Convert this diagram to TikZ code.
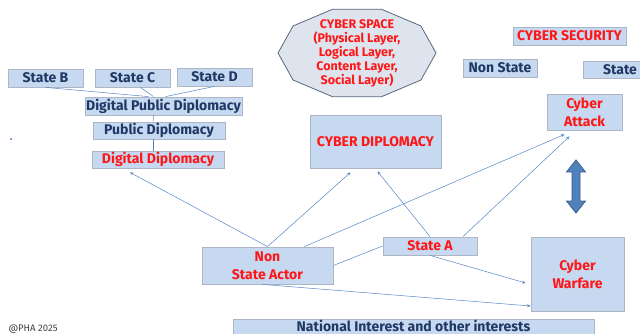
\documentclass[tikz,border=0pt]{standalone}
\usepackage{fontspec}
\setmainfont{Fira Sans}
\usetikzlibrary{arrows.meta,calc}

\definecolor{boxfill}{RGB}{198,217,241}
\definecolor{boxline}{RGB}{172,182,196}
\definecolor{navytext}{RGB}{31,56,100}
\definecolor{redtext}{RGB}{255,22,22}
\definecolor{linkline}{RGB}{84,134,196}
\definecolor{spacefill}{RGB}{222,228,238}
\definecolor{spaceline}{RGB}{88,104,124}
\definecolor{arrowfill}{RGB}{79,129,189}
\definecolor{arrowline}{RGB}{56,93,138}

\newlength{\du}
\setlength{\du}{1pt}

\begin{document}
\begin{tikzpicture}[
  box/.style={draw=boxline, fill=boxfill, line width=0.8pt, inner sep=0pt,
    font=\bfseries\fontsize{14}{18}\selectfont, align=center},
  navy/.style={box, text=navytext},
  redbox/.style={box, text=redtext},
  link/.style={draw=linkline, line width=0.5pt},
  linkarrow/.style={link, -{Stealth[length=3.5pt,width=3pt]}}
]
\pgftransformxscale{1.000000}
\pgftransformyscale{-1.000000}
\clip (0\du,0\du) rectangle (640\du,334\du);
% states on the left
\node[navy, minimum width=75\du, minimum height=18\du] (stateB) at (45.5\du,78\du) {State B};
\node[navy, minimum width=75\du, minimum height=18\du] (stateC) at (132.5\du,78\du) {State C};
\node[navy, minimum width=75\du, minimum height=18\du] (stateD) at (214.5\du,77\du) {State D};
\node[navy, minimum width=157\du, minimum height=18\du] (dpd) at (163.5\du,106\du) {Digital Public Diplomacy};
\node[navy, minimum width=132\du, minimum height=17\du] (pd) at (159\du,130.5\du) {Public Diplomacy};
\node[redbox, minimum width=132\du, minimum height=17\du] (dd) at (158\du,159.5\du) {Digital Diplomacy};
\fill[linkline] (11\du,139\du) circle (1.2\du);
% cyber space
\draw[fill=spacefill, draw=spaceline, line width=0.8pt] (436\du,53\du)
  \foreach \a in {36,72,...,324} { -- ({357*\du+79*\du*cos(\a)},{53*\du+46*\du*sin(\a)}) } -- cycle;
\node[text=redtext, font=\bfseries\fontsize{12.5}{14}\selectfont, align=center] (space) at (357\du,53\du)
  {CYBER SPACE\\(Physical Layer,\\Logical Layer,\\Content Layer,\\Social Layer)};
% right side
\node[redbox, minimum width=113\du, minimum height=18\du] (security) at (569.5\du,36\du) {CYBER SECURITY};
\node[navy, minimum width=74\du, minimum height=18\du] (nonstate) at (500\du,68\du) {Non State};
\node[navy, minimum width=74\du, minimum height=17\du] (state) at (620\du,69.5\du) {State};
\node[redbox, minimum width=75\du, minimum height=36\du] (attack) at (584.5\du,112\du) {Cyber\\Attack};
\node[redbox, minimum width=131\du, minimum height=53\du] (diplomacy) at (375.5\du,141.5\du) {CYBER DIPLOMACY};
\node[redbox, minimum width=131\du, minimum height=37\du] (nsa) at (267.5\du,265.5\du) {Non\\State Actor};
\node[redbox, minimum width=94\du, minimum height=18\du] (stateA) at (430\du,246\du) {State A};
\node[redbox, minimum width=93\du, minimum height=74\du] (warfare) at (577.5\du,274\du) {Cyber\\Warfare};
\node[navy, minimum width=361\du, minimum height=26\du] (national) at (413.5\du,332\du) {};
\node[text=navytext, font=\bfseries\fontsize{14}{18}\selectfont, inner sep=0pt] (nationaltext) at (413.5\du,325.5\du)
  {National Interest and other interests};
\draw[fill=arrowfill, draw=arrowline, line width=0.8pt] (576\du,160\du) -- (585.5\du,172\du) -- (580\du,172\du)
  -- (580\du,201\du) -- (585.5\du,201\du) -- (576\du,213\du) -- (566.5\du,201\du) -- (572\du,201\du)
  -- (572\du,172\du) -- (566.5\du,172\du) -- cycle;
\node[font=\fontsize{9.5}{11}\selectfont, text=black!75, anchor=west] (credit) at (5\du,329\du) {@PHA 2025};
% links
\draw[link] (stateB.south) -- ($(dpd.north)+(-15\du,0\du)$);
\draw[link] ($(stateC.south)+(8\du,0\du)$) -- ($(dpd.north)+(-10\du,0\du)$);
\draw[link] (stateD.south) -- ($(dpd.north)+(2\du,0\du)$);
\draw[link] ($(dpd.south)+(-10\du,0\du)$) -- ($(pd.north)+(-6\du,0\du)$);
\draw[link] ($(pd.south)+(-6\du,0\du)$) -- ($(dd.north)+(-5\du,0\du)$);
\draw[linkarrow] (nsa.north) -- ($(dd.south)+(-28\du,4\du)$);
\draw[linkarrow] (nsa.north) -- ($(diplomacy.south)+(-25\du,4\du)$);
\draw[linkarrow] ($(nsa.north)+(37\du,0\du)$) -- ($(attack.south)+(-20\du,4\du)$);
\draw[linkarrow] (stateA.north) -- ($(diplomacy.south)+(2\du,3\du)$);
\draw[linkarrow] ($(stateA.north)+(33\du,0\du)$) -- ($(attack.south)+(-15\du,6\du)$);
\draw[link] (stateA.west) -- (nsa.east);
\draw[linkarrow] (stateA.south) -- ($(warfare.west)+(-5\du,9\du)$);
\draw[linkarrow] ($(nsa.south)+(-5\du,0\du)$) -- ($(warfare.west)+(0\du,32\du)$);
\end{tikzpicture}
\end{document}
